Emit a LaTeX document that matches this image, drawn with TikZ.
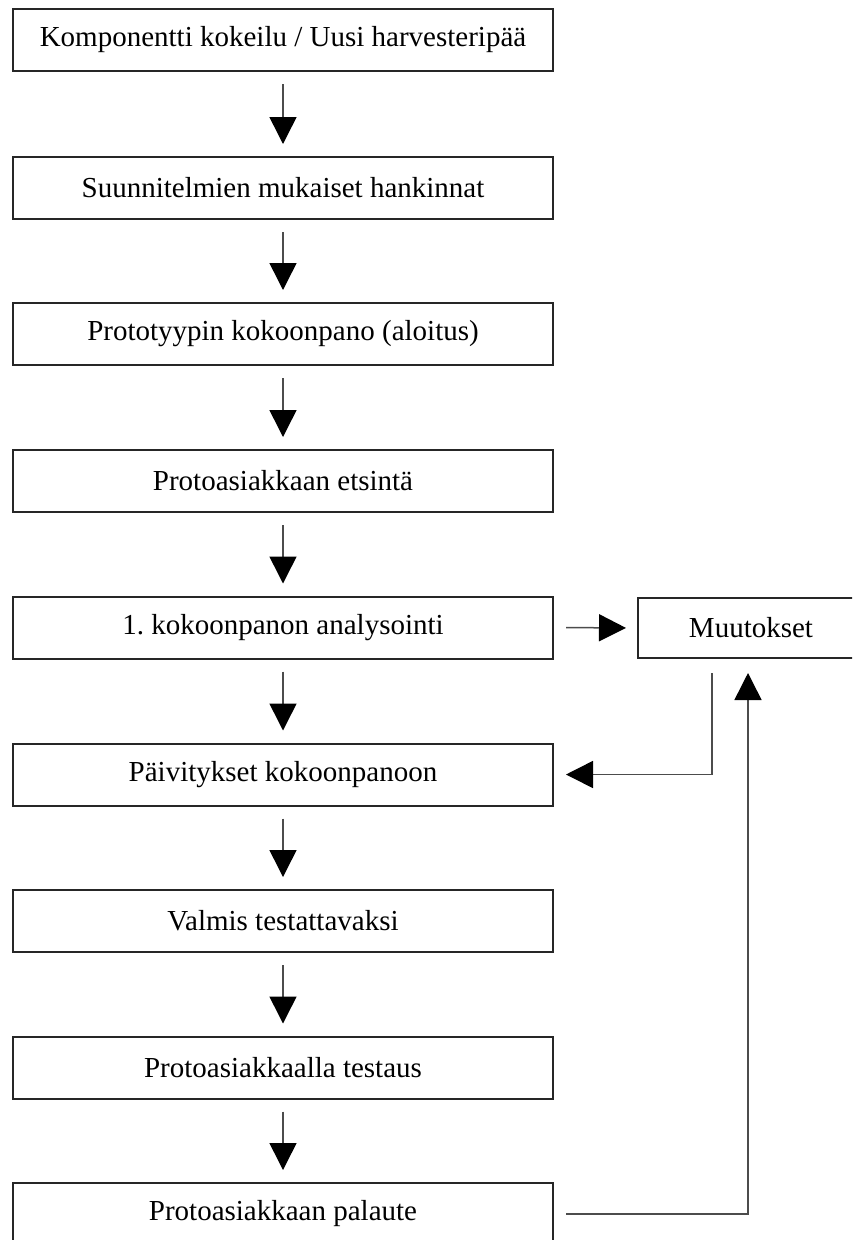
\documentclass[tikz,border=0pt]{standalone}
\usepackage{fontspec}
\setmainfont{Liberation Serif}
\usetikzlibrary{arrows.meta,calc}
\frenchspacing

\tikzset{
  stepbox/.style={draw=black!85, line width=2pt, fill=white, minimum width=540pt,
    minimum height=62pt, inner sep=0pt, font=\fontsize{29}{34}\selectfont},
  sidebox/.style={stepbox, minimum width=262pt, minimum height=60pt},
  flow/.style={draw=black!70, line width=1.5pt,
    -{Triangle[length=27pt, width=27pt, color=black]}},
  down/.style={flow, shorten <=12pt, shorten >=12pt},
}

\begin{document}
\begin{tikzpicture}[x=1pt, y=-1pt]
  \useasboundingbox (0,0) rectangle (852,1240);
  \clip (0,0) rectangle (852,1240);
  \fill[white] (0,0) rectangle (852,1240);

  % main column of steps
  \node[stepbox] (b1) at (283,40)     {Komponentti kokeilu / Uusi harvesteripää};
  \node[stepbox] (b2) at (283,188)    {Suunnitelmien mukaiset hankinnat};
  \node[stepbox] (b3) at (283,334)    {Prototyypin kokoonpano (aloitus)};
  \node[stepbox] (b4) at (283,481)    {Protoasiakkaan etsintä};
  \node[stepbox] (b5) at (283,627.5)  {1. kokoonpanon analysointi};
  \node[stepbox] (b6) at (283,774.5)  {Päivitykset kokoonpanoon};
  \node[stepbox] (b7) at (283,921)    {Valmis testattavaksi};
  \node[stepbox] (b8) at (283,1067.5) {Protoasiakkaalla testaus};
  \node[stepbox] (b9) at (283,1214)   {Protoasiakkaan palaute};

  % side box for changes, running off the right edge
  \node[sidebox] (m) at (769,628) {Muutokset\hspace*{36pt}};

  % downward flow
  \draw[down] (b1) -- (b2);
  \draw[down] (b2) -- (b3);
  \draw[down] (b3) -- (b4);
  \draw[down] (b4) -- (b5);
  \draw[down] (b5) -- (b6);
  \draw[down] (b6) -- (b7);
  \draw[down] (b7) -- (b8);
  \draw[down] (b8) -- (b9);

  % analysis -> changes
  \draw[flow, shorten <=12pt, shorten >=11pt] (b5.east) -- (m.west);

  % changes -> updates
  \coordinate (mout) at ($(m.south)+(-57,14)$);
  \draw[flow, shorten >=12pt] (mout) |- (b6.east);

  % feedback -> changes
  \coordinate (min) at ($(m.south)+(-21,14)$);
  \draw[flow, shorten <=12pt] (b9.east) -| (min);
\end{tikzpicture}
\end{document}
